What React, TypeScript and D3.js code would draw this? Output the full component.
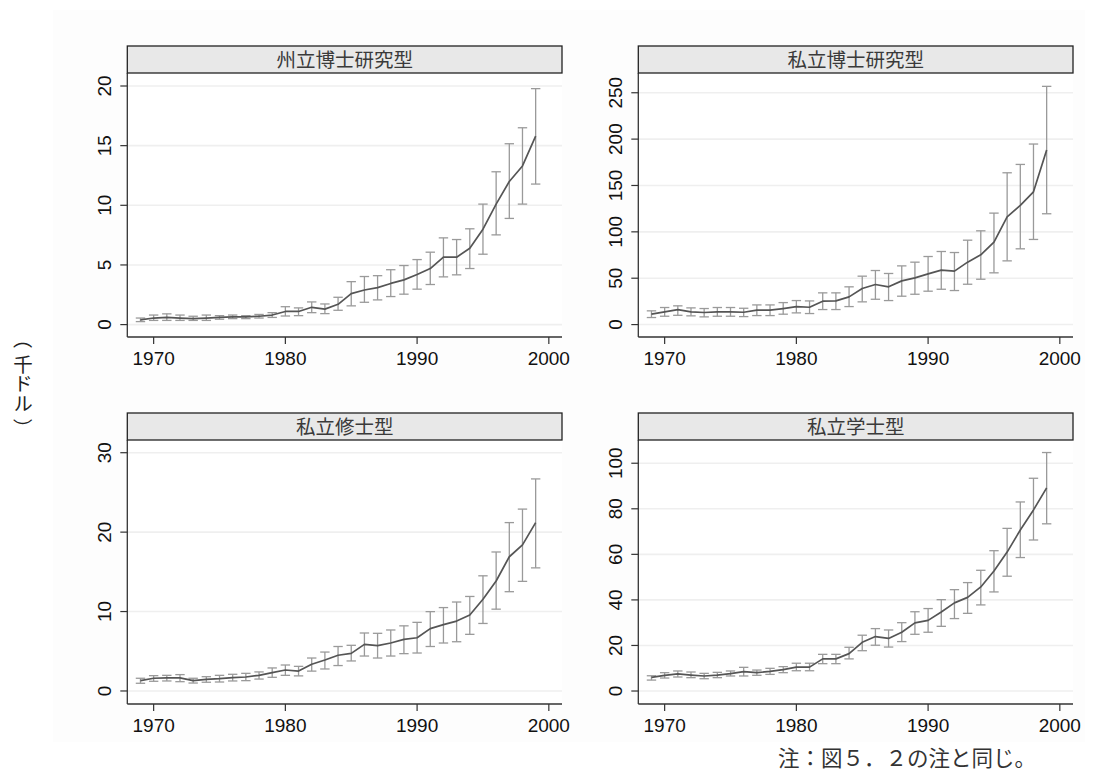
import React from "react";
import * as d3 from "d3";

// Academic years shown on every panel
const years = [
  1969, 1970, 1971, 1972, 1973, 1974, 1975, 1976, 1977, 1978, 1979, 1980,
  1981, 1982, 1983, 1984, 1985, 1986, 1987, 1988, 1989, 1990, 1991, 1992,
  1993, 1994, 1995, 1996, 1997, 1998, 1999,
];
const xTicks = [1970, 1980, 1990, 2000];

// 州立博士研究型 (thousand dollars)
const stateDocMean = [
  0.4, 0.55, 0.6, 0.55, 0.5, 0.55, 0.6, 0.65, 0.65, 0.7, 0.8, 1.1, 1.1, 1.45,
  1.3, 1.7, 2.6, 2.9, 3.1, 3.45, 3.75, 4.2, 4.7, 5.65, 5.65, 6.4, 8.0, 10.1,
  12.0, 13.3, 15.8,
];
const stateDocLow = [
  0.25, 0.35, 0.35, 0.35, 0.35, 0.35, 0.45, 0.5, 0.5, 0.55, 0.6, 0.72, 0.75,
  1.0, 0.92, 1.2, 1.57, 1.87, 2.07, 2.35, 2.55, 2.97, 3.36, 4.0, 4.17, 4.7,
  5.9, 7.52, 8.9, 10.1, 11.78,
];
const stateDocHigh = [
  0.55, 0.8, 0.9, 0.8, 0.7, 0.8, 0.75, 0.8, 0.75, 0.85, 1.0, 1.5, 1.4, 1.9,
  1.73, 2.29, 3.6, 4.03, 4.1, 4.6, 4.95, 5.45, 6.07, 7.27, 7.13, 8.03, 10.1,
  12.81, 15.16, 16.5, 19.78,
];
const stateDocTicks = [0, 5, 10, 15, 20];

// 私立博士研究型
const privDocMean = [
  11.2, 13.7, 16.2, 13.7, 13.0, 13.7, 13.7, 13.3, 15.5, 15.5, 17.3, 19.4, 18.7,
  25.2, 25.5, 29.9, 38.9, 43.2, 40.7, 47.1, 50.4, 54.7, 58.7, 57.6, 67.3, 75.2,
  88.9, 116.2, 128.5, 143.2, 188.2,
];
const privDocLow = [
  7.6, 9.0, 10.0, 9.4, 8.3, 9.0, 9.0, 8.6, 9.7, 9.7, 11.2, 12.6, 11.9, 16.2,
  16.2, 19.4, 24.5, 27.3, 25.9, 30.6, 32.7, 36.0, 38.1, 36.7, 43.5, 48.9, 55.8,
  68.7, 81.7, 91.8, 119.5,
];
const privDocHigh = [
  14.8, 18.4, 20.2, 18.0, 17.3, 18.4, 18.4, 17.6, 21.2, 21.2, 23.7, 25.9, 25.5,
  34.2, 34.2, 40.7, 52.2, 58.3, 55.1, 63.3, 67.3, 73.4, 78.8, 77.7, 91.0, 101.1,
  120.2, 163.7, 172.7, 194.7, 256.9,
];
const privDocTicks = [0, 50, 100, 150, 200, 250];

// 私立修士型
const privMasterMean = [
  1.3, 1.6, 1.64, 1.64, 1.3, 1.47, 1.55, 1.68, 1.76, 1.97, 2.3, 2.64, 2.5,
  3.36, 3.9, 4.5, 4.74, 5.87, 5.7, 6.04, 6.5, 6.7, 7.85, 8.35, 8.8, 9.57,
  11.54, 13.85, 16.9, 18.4, 21.2,
];
const privMasterLow = [
  0.97, 1.22, 1.26, 1.17, 1.0, 1.1, 1.13, 1.26, 1.3, 1.5, 1.72, 1.97, 1.9, 2.5,
  2.77, 3.2, 3.78, 4.4, 4.15, 4.4, 4.7, 4.78, 5.6, 6.04, 6.2, 7.13, 8.5, 10.3,
  12.5, 13.8, 15.5,
];
const privMasterHigh = [
  1.6, 1.93, 1.97, 2.06, 1.6, 1.8, 1.97, 2.1, 2.22, 2.4, 2.9, 3.27, 3.1, 4.15,
  4.9, 5.6, 5.75, 7.3, 7.26, 7.68, 8.2, 8.64, 9.99, 10.5, 11.2, 11.9, 14.5,
  17.5, 21.2, 22.9, 26.7,
];
const privMasterTicks = [0, 10, 20, 30];

// 私立学士型
const privBachMean = [
  6.0, 6.9, 7.5, 7.0, 6.6, 7.0, 7.6, 8.5, 8.05, 8.6, 9.4, 10.5, 10.5, 14.1,
  14.1, 16.4, 21.4, 23.9, 23.1, 25.8, 29.9, 31.0, 34.7, 38.7, 41.1, 45.7, 52.7,
  61.0, 70.7, 79.5, 89.2,
];
const privBachLow = [
  4.8, 5.7, 6.15, 5.86, 5.4, 5.86, 6.6, 6.6, 6.9, 7.3, 8.05, 8.9, 8.9, 12.0,
  12.0, 14.1, 17.7, 20.1, 19.3, 21.7, 24.9, 25.8, 28.4, 31.8, 34.1, 37.8, 43.5,
  50.4, 58.6, 66.3, 73.4,
];
const privBachHigh = [
  6.7, 8.05, 8.8, 8.35, 7.76, 8.2, 8.8, 10.4, 9.2, 9.96, 10.7, 12.2, 12.2,
  16.1, 16.1, 19.2, 24.5, 27.4, 26.8, 30.0, 34.8, 36.2, 40.1, 44.5, 47.6, 53.0,
  61.6, 71.4, 83.0, 93.4, 104.7,
];
const privBachTicks = [0, 20, 40, 60, 80, 100];

type PanelDef = {
  title: string;
  mean: number[];
  low: number[];
  high: number[];
  ticks: number[];
  domain: [number, number];
  col: number;
  row: number;
};

const panels: PanelDef[] = [
  { title: "州立博士研究型", mean: stateDocMean, low: stateDocLow, high: stateDocHigh, ticks: stateDocTicks, domain: [-1.04, 21.09], col: 0, row: 0 },
  { title: "私立博士研究型", mean: privDocMean, low: privDocLow, high: privDocHigh, ticks: privDocTicks, domain: [-13.4, 271.3], col: 1, row: 0 },
  { title: "私立修士型", mean: privMasterMean, low: privMasterLow, high: privMasterHigh, ticks: privMasterTicks, domain: [-1.64, 31.6], col: 0, row: 1 },
  { title: "私立学士型", mean: privBachMean, low: privBachLow, high: privBachHigh, ticks: privBachTicks, domain: [-5.7, 110.2], col: 1, row: 1 },
];

const W = 1097;
const H = 774;
const colX: [number, number][] = [
  [127.3, 562],
  [638.3, 1073],
];
const rowY = [
  { stripTop: 46, plotTop: 73, plotBottom: 337 },
  { stripTop: 413, plotTop: 440, plotBottom: 704 },
];
const numFont = "'Liberation Sans', Arial, Helvetica, sans-serif";
const cjkFont = "'Noto Sans CJK JP', 'Noto Sans CJK SC', sans-serif";

function Panel({ p }: { p: PanelDef }) {
  const [x0, x1] = colX[p.col];
  const { stripTop, plotTop, plotBottom } = rowY[p.row];
  const x = d3.scaleLinear().domain([1968, 2001]).range([x0, x1]);
  const y = d3.scaleLinear().domain(p.domain).range([plotBottom, plotTop]);
  const line = d3
    .line<number>()
    .x((_, i) => x(years[i]))
    .y((d) => y(d));
  const cap = 4.7;

  return (
    <g>
      <rect x={x0} y={plotTop} width={x1 - x0} height={plotBottom - plotTop} fill="#ffffff" />
      {p.ticks.map((t) => (
        <line key={"g" + t} x1={x0} x2={x1} y1={y(t)} y2={y(t)} stroke="#efefef" strokeWidth={1.6} />
      ))}
      {years.map((yr, i) => {
        const cx = x(yr);
        const yl = y(p.low[i]);
        const yh = y(p.high[i]);
        return (
          <g key={"e" + yr} stroke="#9a9a9a" strokeWidth={1.3} fill="none">
            <line x1={cx} x2={cx} y1={yl} y2={yh} />
            <line x1={cx - cap} x2={cx + cap} y1={yl} y2={yl} />
            <line x1={cx - cap} x2={cx + cap} y1={yh} y2={yh} />
          </g>
        );
      })}
      <path d={line(p.mean) || ""} fill="none" stroke="#555555" strokeWidth={1.7} strokeLinejoin="round" />
      {/* axes */}
      <line x1={x0} x2={x0} y1={plotTop} y2={plotBottom} stroke="#333" strokeWidth={1.3} />
      <line x1={x0} x2={x1} y1={plotBottom} y2={plotBottom} stroke="#333" strokeWidth={1.3} />
      {p.ticks.map((t) => (
        <g key={"yt" + t}>
          <line x1={x0 - 7} x2={x0} y1={y(t)} y2={y(t)} stroke="#333" strokeWidth={1.2} />
          <text
            transform={`translate(${x0 - 16.6},${y(t)}) rotate(-90)`}
            textAnchor="middle"
            fontFamily={numFont}
            fontSize={19}
            fill="#111"
          >
            {t}
          </text>
        </g>
      ))}
      {xTicks.map((t) => (
        <g key={"xt" + t}>
          <line x1={x(t)} x2={x(t)} y1={plotBottom} y2={plotBottom + 7} stroke="#333" strokeWidth={1.2} />
          <text x={x(t)} y={plotBottom + 27.5} textAnchor="middle" fontFamily={numFont} fontSize={19} fill="#111">
            {t}
          </text>
        </g>
      ))}
      {/* panel strip */}
      <rect x={x0} y={stripTop} width={x1 - x0} height={plotTop - stripTop} fill="#e8e8e8" stroke="#222" strokeWidth={1.3} />
      <text
        x={(x0 + x1) / 2}
        y={(stripTop + plotTop) / 2 + 7}
        textAnchor="middle"
        fontFamily={cjkFont}
        fontSize={19.5}
        fill="#3a3a3a"
      >
        {p.title}
      </text>
    </g>
  );
}

export default function App() {
  const unitX = 23;
  return (
    <svg width={W} height={H} style={{ display: "block", position: "absolute", left: 0, top: 0 }}>
      <rect x={0} y={0} width={W} height={H} fill="#ffffff" />
      <rect x={53} y={10} width={1032} height={732} fill="#fdfdfd" />
      {panels.map((p) => (
        <Panel key={p.title} p={p} />
      ))}
      {/* vertical unit label: turned brackets around upright 千ドル */}
      <text
        transform={`translate(${unitX},339) rotate(90)`}
        textAnchor="middle"
        dominantBaseline="central"
        fontFamily={cjkFont}
        fontSize={19.5}
        fill="#222"
      >
        （
      </text>
      <text
        x={unitX}
        y={384}
        textAnchor="middle"
        fontFamily={cjkFont}
        fontSize={19.5}
        fill="#222"
        style={{ writingMode: "vertical-rl" } as React.CSSProperties}
      >
        千ドル
      </text>
      <text
        transform={`translate(${unitX},428) rotate(90)`}
        textAnchor="middle"
        dominantBaseline="central"
        fontFamily={cjkFont}
        fontSize={19.5}
        fill="#222"
      >
        ）
      </text>
      <text x={778} y={766} fontFamily={cjkFont} fontSize={21.5} fill="#333">
        注：図５．２の注と同じ。
      </text>
    </svg>
  );
}
